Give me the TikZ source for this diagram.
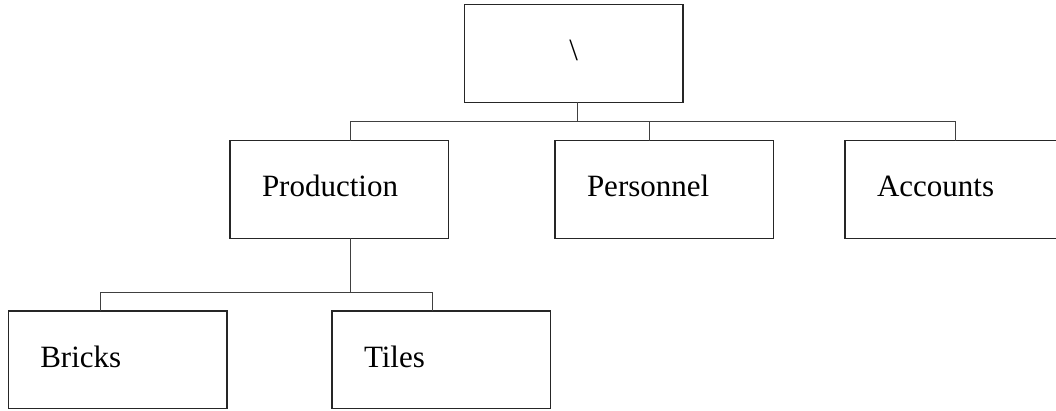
\documentclass[tikz,border=0pt]{standalone}
\usepackage{fontspec}
\setmainfont{Liberation Serif}
\begin{document}
\begin{tikzpicture}[x=1pt,y=-1pt,
    unit/.style={draw=black!85,line width=1.3pt,rectangle,outer sep=0pt,
      minimum width=218.7pt,minimum height=97.6pt,inner xsep=32pt,
      text width=154.7pt,align=left,text height=22pt,text depth=7.6pt,
      font=\fontsize{31}{36}\selectfont,anchor=north west},
    link/.style={draw=black!75,line width=1pt}]
    \useasboundingbox (0,0) rectangle (1056,411);
    % boxes
    \node[unit,align=center] (head) at (464.3,4.7) {\textbackslash};
    \node[unit] (prod) at (230,140.7) {Production};
    \node[unit] (pers) at (555,140.7) {Personnel};
    \node[unit] (acct) at (845,140.7) {Accounts};
    \node[unit] (bricks) at (8.3,311) {Bricks};
    \node[unit] (tiles) at (332,311) {Tiles};
    % connectors
    \coordinate (headdrop) at (577.3,121.5);
    \coordinate (busL) at (350.7,121.5);
    \coordinate (busM) at (649,121.5);
    \coordinate (busR) at (955.3,121.5);
    \coordinate (subL) at (100.7,292);
    \coordinate (subM) at (350.7,292);
    \coordinate (subR) at (432.3,292);
    \draw[link] (head.south -| headdrop) -- (headdrop);
    \draw[link] (busL |- prod.north) -- (busL) -- (busR) -- (busR |- acct.north);
    \draw[link] (busM) -- (busM |- pers.north);
    \draw[link] (prod.south -| subM) -- (subM);
    \draw[link] (subL |- bricks.north) -- (subL) -- (subR) -- (subR |- tiles.north);
\end{tikzpicture}
\end{document}
